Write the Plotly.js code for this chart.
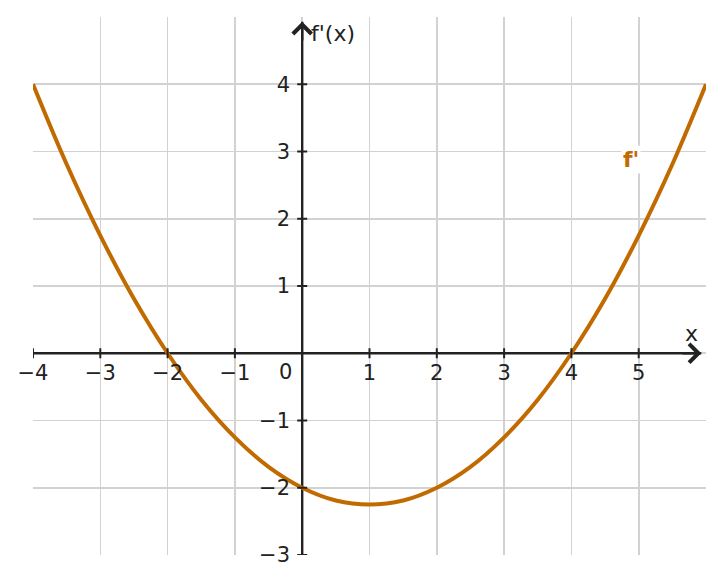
<!DOCTYPE html>
<html>
<head>
<meta charset="utf-8">
<script src="https://cdn.plot.ly/plotly-3.0.1.min.js"></script>
<style>html,body{margin:0;padding:0;background:#fff;}#chart{width:724px;height:584px;}</style>
</head>
<body>
<div id="chart"></div>
<script>
// Curve values
const xValues = [-4, -3.5, -3, -2.5, -2, -1.5, -1, -0.5, 0, 0.5, 1, 1.5, 2, 2.5, 3, 3.5, 4, 4.5, 5, 5.5, 6];
const yValues = [4, 2.81, 1.75, 0.81, 0, -0.69, -1.25, -1.69, -2, -2.19, -2.25, -2.19, -2, -1.69, -1.25, -0.69, 0, 0.81, 1.75, 2.81, 4];

const xTickVals = [-4, -3, -2, -1, 0, 1, 2, 3, 4, 5];
const xTickText = ['\u22124', '\u22123', '\u22122', '\u22121', '', '1', '2', '3', '4', '5'];
const yTickVals = [-3, -2, -1, 0, 1, 2, 3, 4];
const yTickText = ['\u22123', '\u22122', '\u22121', '', '1', '2', '3', '4'];

const xRange = [-4, 6];
const yRange = [-3, 5];
const xAxisEnd = 5.93;
const yAxisEnd = 4.93;

const axisColor = '#222222';
const curveColor = '#c06a00';
const gridColor = '#d2d2d2';
const fontFam = 'DejaVu Sans, sans-serif';
const tickSize = 21;

const traces = [
  {x: [xRange[0], xAxisEnd], y: [0, 0], mode: 'lines', line: {color: axisColor, width: 2.4}, hoverinfo: 'skip', showlegend: false},
  {x: [0, 0], y: [yRange[0], yAxisEnd], mode: 'lines', line: {color: axisColor, width: 2.4}, hoverinfo: 'skip', showlegend: false},
  {x: xValues, y: yValues, mode: 'lines', line: {color: curveColor, width: 4, shape: 'spline', smoothing: 1}, name: "f'", showlegend: false}
];

const shapes = [];
xTickVals.filter(v => v !== 0).forEach(v => shapes.push({
  type: 'line', xref: 'x', yref: 'y', ysizemode: 'pixel', yanchor: 0,
  x0: v, x1: v, y0: -5, y1: 5, line: {color: axisColor, width: 2}
}));
yTickVals.filter(v => v !== 0).forEach(v => shapes.push({
  type: 'line', xref: 'x', yref: 'y', xsizemode: 'pixel', xanchor: 0,
  x0: -5, x1: 5, y0: v, y1: v, line: {color: axisColor, width: 2}
}));

const annotations = [
  {x: xAxisEnd, y: 0, ax: xAxisEnd - 0.3, ay: 0, xref: 'x', yref: 'y', axref: 'x', ayref: 'y', text: '', showarrow: true, arrowhead: 4, arrowsize: 1.5, arrowwidth: 2.4, arrowcolor: axisColor, standoff: 0},
  {x: 0, y: yAxisEnd, ax: 0, ay: yAxisEnd - 0.3, xref: 'x', yref: 'y', axref: 'x', ayref: 'y', text: '', showarrow: true, arrowhead: 4, arrowsize: 1.5, arrowwidth: 2.4, arrowcolor: axisColor, standoff: 0},
  {x: 0, y: 0, xref: 'x', yref: 'y', text: '0', showarrow: false, xshift: -17, yshift: -19, font: {family: fontFam, size: tickSize, color: axisColor}},
  {x: xAxisEnd, y: 0, xref: 'x', yref: 'y', text: 'x', showarrow: false, xshift: -10, yshift: 20, font: {family: fontFam, size: 22, color: axisColor}},
  {x: 0, y: yAxisEnd, xref: 'x', yref: 'y', text: "f'(x)", showarrow: false, xanchor: 'left', xshift: 7, yshift: -12, font: {family: fontFam, size: 22, color: axisColor}},
  {x: 4.88, y: 2.88, xref: 'x', yref: 'y', text: "<b>f'</b>", showarrow: false, bgcolor: '#ffffff', font: {family: fontFam, size: 22, color: curveColor}}
];

const layout = {
  width: 724, height: 584,
  margin: {l: 33, r: 18, t: 17, b: 29, pad: 0},
  paper_bgcolor: '#ffffff', plot_bgcolor: '#ffffff',
  font: {family: fontFam, size: tickSize, color: axisColor},
  showlegend: false,
  xaxis: {
    range: xRange, anchor: 'free', position: 0.375,
    tickmode: 'array', tickvals: xTickVals, ticktext: xTickText,
    ticks: 'outside', ticklen: 1, tickcolor: 'rgba(0,0,0,0)',
    showgrid: true, gridcolor: gridColor, gridwidth: 1.6,
    zeroline: false, showline: false, fixedrange: true,
    tickfont: {family: fontFam, size: tickSize, color: axisColor}
  },
  yaxis: {
    range: yRange, anchor: 'free', position: 0.4,
    tickmode: 'array', tickvals: yTickVals, ticktext: yTickText,
    ticks: 'outside', ticklen: 8, tickcolor: 'rgba(0,0,0,0)',
    showgrid: true, gridcolor: gridColor, gridwidth: 1.6,
    zeroline: false, showline: false, fixedrange: true,
    tickfont: {family: fontFam, size: tickSize, color: axisColor}
  },
  shapes: shapes,
  annotations: annotations
};

Plotly.newPlot('chart', traces, layout, {displayModeBar: false, staticPlot: true});
</script>
</body>
</html>
